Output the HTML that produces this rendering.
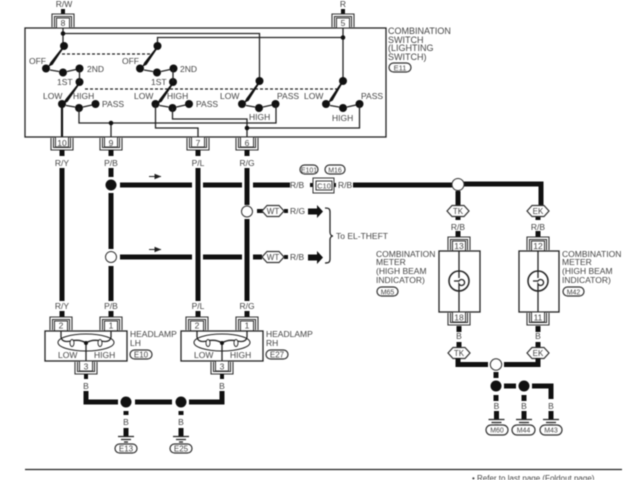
<!DOCTYPE html>
<html><head><meta charset="utf-8"><style>
html,body{margin:0;padding:0;background:#fff}
svg{display:block;filter:blur(.4px);font-family:"Liberation Sans",sans-serif;font-size:8.5px}
text{fill:#444;stroke:none}
.m{text-anchor:middle}
.w{stroke:#111;stroke-width:5;fill:none}
.t{stroke:#222;stroke-width:1.3;fill:none}
.d{stroke:#222;stroke-width:1.2;fill:none;stroke-dasharray:3 2}
.tag{fill:#fff;stroke:#333;stroke-width:1.2}
.o{fill:#fff;stroke:#333;stroke-width:1}
</style></head><body>
<svg width="640" height="480" viewBox="0 0 640 480" xmlns="http://www.w3.org/2000/svg">
<defs>
<g id="cd"><path d="M-11 -1V-14H11V-1M-8.5 -1V-11.5H8.5V-1" fill="none" stroke="#333" stroke-width="1.1"/><rect x="-6.5" y="-10" width="13" height="10" fill="#fff" stroke="#333" stroke-width="1"/></g>
<g id="cu"><path d="M-11 1V13H11V1M-8.5 1V10.5H8.5V1" fill="none" stroke="#333" stroke-width="1.1"/><rect x="-6.5" y="0" width="13" height="10" fill="#fff" stroke="#333" stroke-width="1"/></g>
<g id="sw"><circle cx="0" cy="0" r="4" fill="#111"/><circle cx="17" cy="4" r="4" fill="#111"/><circle cx="33.5" cy="0" r="4" fill="#111"/><path d="M4 1.5L13 3M21 3L30 1" stroke="#222" stroke-width="1.2" fill="none"/></g>
<g id="gnd"><path d="M0 -5V3" stroke="#111" stroke-width="5"/><path d="M-8 3.5H8M-5 6.5H5M-2 9H2" stroke="#222" stroke-width="1.2"/></g>
<g id="hex"><path d="M-11 0L-6 -5.5H6L11 0L6 5.5H-6Z" class="tag"/></g>
</defs>

<!-- switch box -->
<rect x="25" y="28" width="361" height="109" fill="none" stroke="#222" stroke-width="1.3"/>
<path class="t" d="M63 28V46M63 33.5H259.5V81M157.5 46V37.5H343M343 28V81"/>
<path class="d" d="M62 54H150M85 89H337"/>
<circle cx="63" cy="33.5" r="2.3" fill="#111"/><circle cx="343" cy="37.5" r="2.3" fill="#111"/>
<circle cx="64" cy="46" r="4" fill="#111"/><circle cx="157.5" cy="46" r="4" fill="#111"/>
<circle cx="259.5" cy="81" r="4" fill="#111"/><circle cx="343" cy="81" r="4" fill="#111"/>
<use href="#sw" x="46" y="68.5"/><use href="#sw" x="140" y="68.5"/>
<use href="#sw" x="62" y="104"/><use href="#sw" x="155.5" y="104"/><use href="#sw" x="242" y="104"/><use href="#sw" x="326" y="104"/>
<circle cx="79.5" cy="82" r="4" fill="#111"/><circle cx="173" cy="82" r="4" fill="#111"/>
<path class="t" stroke-width="2" d="M79.5 69V82M173 69V82"/>
<path stroke="#111" stroke-width="1.8" fill="#111" d="M62 49L51 63L50 65L52 64ZM156 49L145 63L144 65L146 64ZM78 85L66 100L65 102L67 101ZM171.5 85L160 100L159 102L161 101ZM258 84L247 99L246 101L248 100ZM341 84L331 99L330 101L332 100Z"/>
<path stroke="#111" stroke-width="2.2" fill="none" d="M62 104V137"/>
<path class="t" d="M79 108V123H276V104M155.5 104V128H198V137M172.5 108V119H247V137M111 123V137M247 128H359.5V104"/>
<circle cx="111" cy="123" r="2.3" fill="#111"/><circle cx="247" cy="128" r="2.3" fill="#111"/>
<text x="29" y="64">OFF</text><text x="122" y="64">OFF</text>
<text x="87" y="72">2ND</text><text x="180" y="72">2ND</text>
<text x="57" y="85">1ST</text><text x="151" y="85">1ST</text>
<text x="43" y="99">LOW</text><text x="73" y="99">HIGH</text><text x="102" y="107">PASS</text>
<text x="134" y="99">LOW</text><text x="167" y="99">HIGH</text><text x="196" y="107">PASS</text>
<text x="220" y="99">LOW</text><text x="277" y="99">PASS</text><text x="249" y="120">HIGH</text>
<text x="304" y="99">LOW</text><text x="361" y="99">PASS</text><text x="332" y="121">HIGH</text>
<text x="388" y="34" font-size="9">COMBINATION</text><text x="388" y="43" font-size="9">SWITCH</text><text x="388" y="51" font-size="9">(LIGHTING</text><text x="388" y="60" font-size="9">SWITCH)</text>
<rect x="389" y="63" width="22" height="9" rx="4.5" class="tag"/><text class="m" x="400" y="70.5" font-size="7.5">E11</text>

<!-- top connectors -->
<path stroke="#111" stroke-width="4" d="M63 9V14M343 9V14"/>
<use href="#cd" x="63" y="28"/><use href="#cd" x="343" y="28"/>
<text class="m" x="64" y="7">R/W</text><text class="m" x="343" y="7">R</text>
<text class="m" x="63" y="26">8</text><text class="m" x="343" y="26">5</text>

<!-- bottom connectors of switch -->
<use href="#cu" x="62" y="137"/><use href="#cu" x="111" y="137"/><use href="#cu" x="198" y="137"/><use href="#cu" x="247" y="137"/>
<text class="m" x="62" y="146">10</text><text class="m" x="111" y="146">9</text><text class="m" x="198" y="146">7</text><text class="m" x="247" y="146">6</text>
<path stroke="#111" stroke-width="5" d="M62 150V156M111 150V156M198 150V156M247 150V156"/>
<text class="m" x="62" y="166">R/Y</text><text class="m" x="111" y="166">P/B</text><text class="m" x="198" y="166">P/L</text><text class="m" x="247" y="166">R/G</text>

<!-- verticals -->
<path class="w" d="M62 168V301M111 168V177M111 193V249M111 266V301M198 168V301M247 168V205M247 219V301"/>
<!-- horizontals -->
<path class="w" d="M120 185H192M203 185H242M253 185H290M353 185H452M464 184H541V205M120 257H192M203 257H242M253 257H262"/>
<path stroke="#111" stroke-width="4" d="M257 211H263M284 211H288M284 257H288M310 185H316M331 185H336"/>
<circle cx="111" cy="185" r="5.5" fill="#111"/>
<circle cx="247" cy="211.5" r="5.5" class="o"/><circle cx="111" cy="257" r="5.5" class="o"/>
<path stroke="#222" stroke-width="1" fill="#111" d="M149 176.5H161M149 249.5H161M155 174.5L160 176.5L155 178.5ZM155 247.5L160 249.5L155 251.5Z"/>
<text x="290" y="188">R/B</text><text x="338" y="188">R/B</text>
<rect x="313" y="178" width="21" height="15" fill="#fff" stroke="#333" stroke-width="1"/><rect x="316" y="181" width="16" height="9" fill="#fff" stroke="#333" stroke-width="1"/>
<text class="m" x="324" y="188.5" font-size="7.5">C10</text>
<rect x="300" y="165" width="18" height="9" rx="4.5" class="tag"/><rect x="325" y="165" width="20" height="9" rx="4.5" class="tag"/>
<text class="m" x="309" y="172.5" font-size="7">E101</text><text class="m" x="335" y="172.5" font-size="7">M16</text>
<use href="#hex" x="273" y="211"/><use href="#hex" x="273" y="257"/>
<text class="m" x="273" y="214" font-size="8">WT</text><text class="m" x="273" y="260" font-size="8">WT</text>
<text x="290" y="214">R/G</text><text x="290" y="260">R/B</text>
<path fill="#111" d="M308 208.5H317V205L323 211.5L317 218V214.5H308ZM308 254.5H317V251L323 257.5L317 264V260.5H308Z"/>
<path class="t" stroke-width="1" d="M325 208C329 208 330 209 330 212V232C330 234 331 236 333 236C331 236 330 238 330 240V259C330 262 329 263 325 263"/>
<text x="336" y="239">To EL-THEFT</text>

<!-- headlamps -->
<text class="m" x="62" y="309">R/Y</text><text class="m" x="111" y="309">P/B</text><text class="m" x="198" y="309">P/L</text><text class="m" x="247" y="309">R/G</text>
<path stroke="#111" stroke-width="5" d="M62 311V317M111 311V317M198 311V317M247 311V317"/>
<g id="hl">
<use href="#cd" x="61" y="331"/><use href="#cd" x="111" y="331"/>
<rect x="45" y="331" width="82" height="30" fill="#fff" stroke="#222" stroke-width="1.3"/>
<ellipse cx="86" cy="342.5" rx="28" ry="8.5" fill="none" stroke="#222" stroke-width="1"/>
<path class="t" stroke-width="1" d="M61 331V337Q62 343 71 341M111 331V337Q110 343 101 341M86 343V361M71 341Q80 339 86 343Q92 339 101 341"/>
<ellipse cx="72" cy="343" rx="2" ry="3.5" fill="#fff" stroke="#222" stroke-width=".9"/><ellipse cx="100" cy="343" rx="2" ry="3.5" fill="#fff" stroke="#222" stroke-width=".9"/>
<circle cx="86" cy="343" r="2" fill="#111"/>
<use href="#cu" x="86" y="361"/>
</g>
<text class="m" x="61" y="328.5">2</text><text class="m" x="111" y="328.5">1</text><text class="m" x="86" y="369.5">3</text>
<text x="58" y="358">LOW</text><text x="94" y="358">HIGH</text>
<use href="#hl" x="136"/>
<text class="m" x="197" y="328.5">2</text><text class="m" x="247" y="328.5">1</text><text class="m" x="222" y="369.5">3</text>
<text x="194" y="358">LOW</text><text x="230" y="358">HIGH</text>
<text x="130" y="337">HEADLAMP</text><text x="130" y="346">LH</text>
<rect x="130" y="350" width="22" height="9" rx="4.5" class="tag"/><text class="m" x="141" y="357.5" font-size="8">E10</text>
<text x="266" y="337">HEADLAMP</text><text x="266" y="346">RH</text>
<rect x="266" y="350" width="22" height="9" rx="4.5" class="tag"/><text class="m" x="277" y="357.5" font-size="8">E27</text>

<path stroke="#111" stroke-width="4" d="M86 374V379M222 374V379"/>
<text class="m" x="86" y="389">B</text><text class="m" x="222" y="389">B</text>
<path class="w" d="M86 391V402H118M135 402H172M189 402H222V391"/>
<circle cx="126" cy="402" r="5.5" fill="#111"/><circle cx="181" cy="402" r="5.5" fill="#111"/>
<path stroke="#111" stroke-width="5" d="M126 411V415M181 411V415"/>
<text class="m" x="126" y="425">B</text><text class="m" x="181" y="425">B</text>
<use href="#gnd" x="126" y="433"/><use href="#gnd" x="181" y="433"/>
<rect x="115" y="444" width="22" height="9" rx="4.5" class="tag"/><rect x="170" y="444" width="22" height="9" rx="4.5" class="tag"/>
<text class="m" x="126" y="451.5" font-size="8">E13</text><text class="m" x="181" y="451.5" font-size="8">E25</text>

<!-- right meters -->
<circle cx="458" cy="184.5" r="6" class="o"/>
<path stroke="#111" stroke-width="5" d="M458 191V205M539 205V212M458 216V220M538 216V220M458 231V237M538 231V237"/>
<use href="#hex" x="458" y="211"/><use href="#hex" x="538" y="211"/>
<text class="m" x="458" y="214" font-size="8">TK</text><text class="m" x="538" y="214" font-size="8">EK</text>
<text class="m" x="458" y="230">R/B</text><text class="m" x="538" y="230">R/B</text>
<use href="#cd" x="459" y="251"/><use href="#cd" x="538" y="251"/>
<rect x="439" y="251" width="41" height="61" fill="#fff" stroke="#222" stroke-width="1.3"/>
<rect x="519" y="251" width="40" height="61" fill="#fff" stroke="#222" stroke-width="1.3"/>
<path class="t" d="M459 251V312M538 251V312" stroke-width="1"/>
<circle cx="459" cy="281" r="10" fill="#fff" stroke="#222" stroke-width="1.5"/><circle cx="538" cy="281" r="10" fill="#fff" stroke="#222" stroke-width="1.5"/>
<path class="t" d="M454 281H459A3 3 0 1 1 459 284V291M533 281H538A3 3 0 1 1 538 284V291M459 271V278M538 271V278"/>
<use href="#cu" x="459" y="312"/><use href="#cu" x="538" y="312"/>
<text class="m" x="459" y="249">13</text><text class="m" x="538" y="249">12</text>
<text class="m" x="459" y="320.5">18</text><text class="m" x="538" y="320.5">11</text>
<text x="376" y="257">COMBINATION</text><text x="376" y="265">METER</text><text x="376" y="274">(HIGH BEAM</text><text x="376" y="283">INDICATOR)</text>
<rect x="377" y="287" width="21" height="9" rx="4.5" class="tag"/><text class="m" x="387.5" y="294.5" font-size="7">M65</text>
<text x="562" y="257">COMBINATION</text><text x="562" y="265">METER</text><text x="562" y="274">(HIGH BEAM</text><text x="562" y="283">INDICATOR)</text>
<rect x="563" y="287" width="21" height="9" rx="4.5" class="tag"/><text class="m" x="573.5" y="294.5" font-size="7">M42</text>

<path stroke="#111" stroke-width="5" d="M459 326V332M538 326V332M459 342V348M538 342V348"/>
<text class="m" x="459" y="339">B</text><text class="m" x="538" y="339">B</text>
<use href="#hex" x="459" y="353"/><use href="#hex" x="538" y="353"/>
<text class="m" x="459" y="356" font-size="8">TK</text><text class="m" x="538" y="356" font-size="8">EK</text>
<path class="w" d="M458 358V364.5H488M504 364.5H538V358"/>
<circle cx="496" cy="364.5" r="5.7" class="o"/>
<path stroke="#111" stroke-width="5" d="M496 372V378M496 395V401M524 395V401"/>
<path class="w" d="M504 386H516M532 386H551V399"/>
<circle cx="496" cy="386" r="5.5" fill="#111"/><circle cx="524" cy="386" r="5.5" fill="#111"/>
<text class="m" x="496.5" y="409">B</text><text class="m" x="524" y="409">B</text><text class="m" x="551" y="409">B</text>
<use href="#gnd" x="496.5" y="416"/><use href="#gnd" x="524" y="416"/><use href="#gnd" x="551" y="416"/>
<rect x="486" y="425" width="22" height="10" rx="5" class="tag"/><rect x="512" y="425" width="23" height="10" rx="5" class="tag"/><rect x="540" y="425" width="22" height="10" rx="5" class="tag"/>
<text class="m" x="497" y="432.5" font-size="7">M60</text><text class="m" x="523.5" y="432.5" font-size="7">M44</text><text class="m" x="551" y="432.5" font-size="7">M43</text>

<!-- footer -->
<path stroke="#222" stroke-width="1.2" d="M25 469.5H622"/>
<text x="472" y="481" font-size="8">• Refer to last page (Foldout page).</text>
</svg>
</body></html>
